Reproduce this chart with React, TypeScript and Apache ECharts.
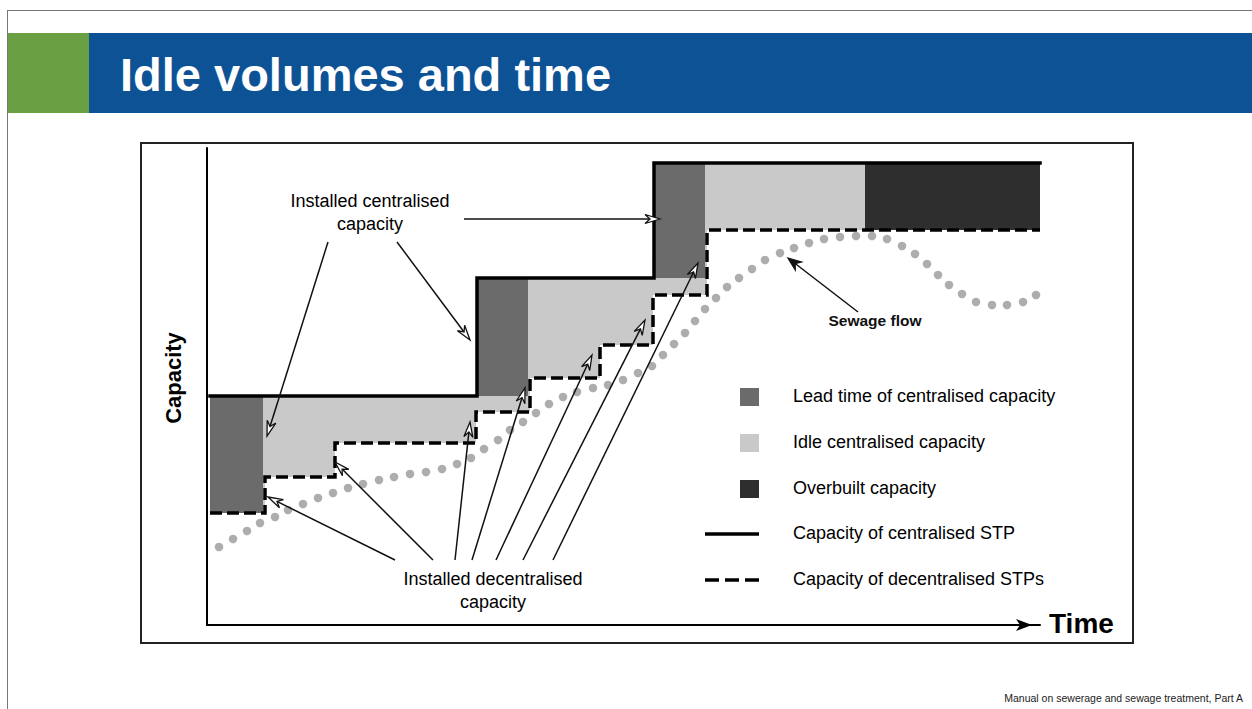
import React, { useEffect, useRef } from "react";
import * as echarts from "echarts";

// ---- Data (time units on x, capacity units on y) ----
const centralT = [3, 270, 447, 833];
const centralQ = [229, 347, 462];

const decentralT = [3, 58, 128, 269, 323, 393, 446, 500, 833];
const decentralQ = [112, 148, 182, 213, 247, 280, 330, 395];

const leadStart = [3, 270, 447];
const leadEnd = [56, 321, 498];
const leadLow = [112, 229, 347];
const leadHigh = [229, 347, 462];

const overbuilt = [658, 833, 395, 462];

const flowT = [12, 26, 40, 53, 68, 81, 96, 111, 126, 141, 156, 172, 187, 203, 219, 235, 250, 264, 277, 291, 303, 316, 329, 342, 356, 370, 386, 401, 416, 431, 445, 456, 467, 478, 488, 498, 509, 520, 532, 545, 558, 573, 587, 602, 617, 633, 649, 665, 680, 695, 708, 720, 731, 742, 755, 769, 785, 800, 816, 829];
const flowQ = [78, 86, 94, 102, 108, 115, 121, 127, 132, 137, 141, 145, 148, 151, 153, 156, 161, 167, 176, 185, 195, 203, 212, 221, 228, 233, 237, 240, 245, 252, 259, 270, 281, 292, 304, 316, 327, 338, 347, 356, 365, 372, 377, 382, 386, 388, 389, 389, 386, 379, 371, 361, 350, 340, 331, 323, 320, 320, 323, 330];

// annotation arrows: [fromT, fromQ, toT, toQ, filled]
const arrowFromT = [121, 190, 257, 188, 226, 248, 265, 289, 316, 346, 651];
const arrowFromQ = [383, 383, 406, 65, 65, 65, 65, 65, 65, 65, 313];
const arrowToT = [60, 263, 453, 61, 128, 263, 318, 385, 438, 491, 581];
const arrowToQ = [189, 285, 406, 128, 163, 203, 237, 270, 305, 362, 367];
const arrowFilled = [0, 0, 0, 0, 0, 0, 0, 0, 0, 0, 1];

const legendLabels = [
  "Lead time of centralised capacity",
  "Idle centralised capacity",
  "Overbuilt capacity",
  "Capacity of centralised STP",
  "Capacity of decentralised STPs",
];

const COL_LEAD = "#6b6b6b";
const COL_IDLE = "#c9c9c9";
const COL_OVER = "#2e2e2e";
const FONT = "'Liberation Sans', Arial, Helvetica, sans-serif";
const ZT = 50;

function stepPoints(ts: number[], qs: number[]) {
  const pts: number[][] = [];
  for (let i = 0; i < qs.length; i++) {
    pts.push([ts[i], qs[i]]);
    pts.push([ts[i + 1], qs[i]]);
  }
  return pts;
}

export default function App() {
  const ref = useRef<HTMLDivElement>(null);
  useEffect(() => {
    if (!ref.current) return;
    const chart = echarts.init(ref.current, undefined, { renderer: "svg" });

    const centralPts = stepPoints(centralT, centralQ);
    const decentralPts = stepPoints(decentralT, decentralQ);
    const rectData: number[][] = leadStart.map((s, i) => [s, leadEnd[i], leadLow[i], leadHigh[i], 0]);
    rectData.push([overbuilt[0], overbuilt[1], overbuilt[2], overbuilt[3], 1]);
    const flowData = flowT.map((t, i) => [t, flowQ[i]]);
    const arrowData = arrowFromT.map((t, i) => [t, arrowFromQ[i], arrowToT[i], arrowToQ[i], arrowFilled[i]]);

    const legendGraphics: any[] = [];
    const legendY = [397, 443, 489, 534, 580];
    const boxCols = [COL_LEAD, COL_IDLE, COL_OVER];
    legendLabels.forEach((lab, i) => {
      if (i < 3) {
        legendGraphics.push({
          type: "rect",
          z: ZT,
          shape: { x: 740, y: legendY[i] - 9, width: 19, height: 18 },
          style: { fill: boxCols[i] },
        });
      } else {
        legendGraphics.push({
          type: "line",
          z: ZT,
          shape: { x1: 705, y1: legendY[i], x2: 759, y2: legendY[i] },
          style: { stroke: "#000", lineWidth: 3.5, lineDash: i === 4 ? [14, 6] : null },
        });
      }
      legendGraphics.push({
        type: "text",
        z: ZT,
        style: {
          text: lab,
          x: 793,
          y: legendY[i] - 1,
          font: `18px ${FONT}`,
          fill: "#000",
          verticalAlign: "middle",
          align: "left",
        },
      });
    });

    const option: any = {
      animation: false,
      backgroundColor: "#fff",
      grid: { left: 207, top: 148, width: 833, height: 477, containLabel: false },
      xAxis: {
        type: "value",
        min: 0,
        max: 833,
        z: 20,
        axisLine: {
          show: true,
          lineStyle: { color: "#000", width: 2 },
          symbol: ["none", "arrow"],
          symbolSize: [9, 16],
          symbolOffset: [0, -8],
        },
        axisTick: { show: false },
        axisLabel: { show: false },
        splitLine: { show: false },
      },
      yAxis: {
        type: "value",
        min: 0,
        max: 477,
        z: 20,
        axisLine: { show: true, onZero: false, lineStyle: { color: "#000", width: 2 } },
        axisTick: { show: false },
        axisLabel: { show: false },
        splitLine: { show: false },
      },
      series: [
        {
          name: "idle fill",
          type: "line",
          data: centralPts,
          showSymbol: false,
          lineStyle: { width: 0 },
          areaStyle: { color: COL_IDLE, opacity: 1 },
          z: 1,
          silent: true,
        },
        {
          name: "below decentral",
          type: "line",
          data: decentralPts,
          showSymbol: false,
          lineStyle: { width: 0 },
          areaStyle: { color: "#fff", opacity: 1 },
          z: 2,
          silent: true,
        },
        {
          name: "rects",
          type: "custom",
          data: rectData,
          encode: { x: [0, 1], y: [2, 3] },
          z: 3,
          renderItem: (params: any, api: any) => {
            const a = api.coord([api.value(0), api.value(3)]);
            const b = api.coord([api.value(1), api.value(2)]);
            return {
              type: "rect",
              shape: { x: a[0], y: a[1], width: b[0] - a[0], height: b[1] - a[1] },
              style: { fill: api.value(4) === 1 ? COL_OVER : COL_LEAD },
            };
          },
        },
        {
          name: "Capacity of centralised STP",
          type: "line",
          data: centralPts,
          showSymbol: false,
          lineStyle: { color: "#000", width: 3.5, cap: "square", join: "miter" },
          z: 5,
        },
        {
          name: "Capacity of decentralised STPs",
          type: "line",
          data: decentralPts,
          showSymbol: false,
          lineStyle: { color: "#000", width: 3.5, type: [12, 5], join: "miter" },
          z: 5,
        },
        {
          name: "Sewage flow",
          type: "scatter",
          data: flowData,
          symbol: "circle",
          symbolSize: 8.5,
          itemStyle: { color: "#999999" },
          z: 6,
        },
        {
          name: "arrows",
          type: "custom",
          data: arrowData,
          encode: { x: [0, 2], y: [1, 3] },
          z: 8,
          renderItem: (params: any, api: any) => {
            const p1 = api.coord([api.value(0), api.value(1)]);
            const p2 = api.coord([api.value(2), api.value(3)]);
            const filled = api.value(4) === 1;
            const dx = p2[0] - p1[0];
            const dy = p2[1] - p1[1];
            const len = Math.hypot(dx, dy);
            const ux = dx / len;
            const uy = dy / len;
            const px = -uy;
            const py = ux;
            const L = filled ? 13 : 15;
            const W = filled ? 5 : 4.5;
            const N = filled ? 9 : 10;
            const tip = p2;
            const b1 = [tip[0] - ux * L + px * W, tip[1] - uy * L + py * W];
            const b2 = [tip[0] - ux * L - px * W, tip[1] - uy * L - py * W];
            const notch = [tip[0] - ux * N, tip[1] - uy * N];
            return {
              type: "group",
              children: [
                {
                  type: "line",
                  shape: { x1: p1[0], y1: p1[1], x2: notch[0], y2: notch[1] },
                  style: { stroke: "#111", lineWidth: 1.5 },
                },
                {
                  type: "polygon",
                  shape: { points: [tip, b1, notch, b2] },
                  style: { fill: filled ? "#111" : "#fff", stroke: "#111", lineWidth: 1.3 },
                },
              ],
            };
          },
        },
      ],
      graphic: [
        // slide border
        { type: "line", shape: { x1: 7, y1: 10.5, x2: 1252, y2: 10.5 }, style: { stroke: "#777", lineWidth: 1 } },
        { type: "line", shape: { x1: 7.5, y1: 10, x2: 7.5, y2: 709 }, style: { stroke: "#777", lineWidth: 1 } },
        // header
        { type: "rect", shape: { x: 8, y: 33, width: 81, height: 80 }, style: { fill: "#6a9f43" } },
        { type: "rect", shape: { x: 89, y: 33, width: 1163, height: 80 }, style: { fill: "#0e5296" } },
        {
          type: "text",
          z: ZT,
          style: {
            text: "Idle volumes and time",
            x: 120,
            y: 74,
            font: `bold 47px ${FONT}`,
            fill: "#fff",
            verticalAlign: "middle",
          },
        },
        // chart frame
        {
          type: "rect",
          shape: { x: 141, y: 143, width: 992, height: 500 },
          style: { fill: "none", stroke: "#222", lineWidth: 2 },
          z: 100,
        },
        {
          type: "text",
          z: ZT,
          style: {
            text: "Capacity",
            x: 173,
            y: 378,
            font: `bold 22px ${FONT}`,
            fill: "#000",
            align: "center",
            verticalAlign: "middle",
          },
          rotation: Math.PI / 2,
          originX: 173,
          originY: 378,
        },
        {
          type: "text",
          z: ZT,
          style: {
            text: "Time",
            x: 1049,
            y: 623,
            font: `bold 28px ${FONT}`,
            fill: "#000",
            verticalAlign: "middle",
          },
        },
        {
          type: "text",
          z: ZT,
          style: {
            text: "Installed centralised\ncapacity",
            x: 370,
            y: 212,
            font: `18px ${FONT}`,
            lineHeight: 23,
            fill: "#000",
            align: "center",
            verticalAlign: "middle",
          },
        },
        {
          type: "text",
          z: ZT,
          style: {
            text: "Installed decentralised\ncapacity",
            x: 493,
            y: 590,
            font: `18px ${FONT}`,
            lineHeight: 23,
            fill: "#000",
            align: "center",
            verticalAlign: "middle",
          },
        },
        {
          type: "text",
          z: ZT,
          style: {
            text: "Sewage flow",
            x: 875,
            y: 320,
            font: `bold 15.5px ${FONT}`,
            fill: "#111",
            align: "center",
            verticalAlign: "middle",
          },
        },
        ...legendGraphics,
        {
          type: "text",
          z: ZT,
          style: {
            text: "Manual on sewerage and sewage treatment, Part A",
            x: 1243,
            y: 698,
            font: `10.5px ${FONT}`,
            fill: "#222",
            align: "right",
            verticalAlign: "middle",
          },
        },
      ],
    };
    chart.setOption(option);
    return () => chart.dispose();
  }, []);
  return (
    <div
      ref={ref}
      style={{ position: "absolute", left: 0, top: 0, width: 1252, height: 709, background: "#fff" }}
    />
  );
}
